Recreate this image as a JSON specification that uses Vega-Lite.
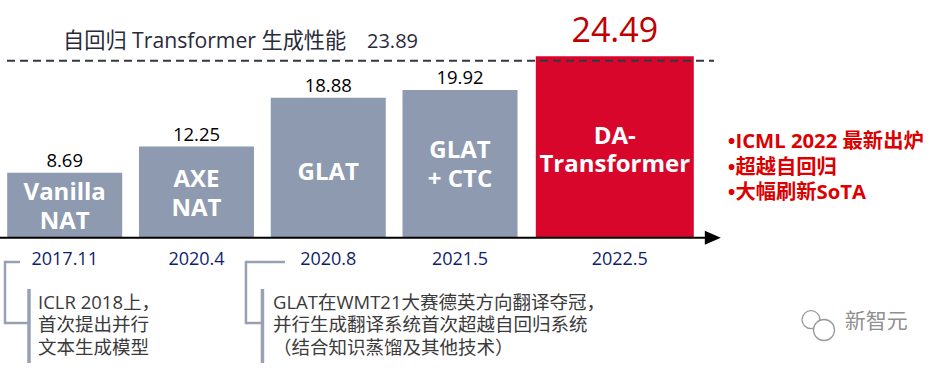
{
  "$schema": "https://vega.github.io/schema/vega-lite/v6.json",
  "width": 943,
  "height": 370,
  "autosize": {"type": "none"},
  "padding": 0,
  "background": "white",
  "config": {"view": {"stroke": null}, "text": {"font": "'Open Sans', 'Noto Sans CJK SC', sans-serif"}},
  "datasets": {
    "bars": [
      {"date": "2017.11", "name": "Vanilla\nNAT", "value": 8.69, "hl": 0},
      {"date": "2020.4", "name": "AXE\nNAT", "value": 12.25, "hl": 0},
      {"date": "2020.8", "name": "GLAT", "value": 18.88, "hl": 0},
      {"date": "2021.5", "name": "GLAT\n+ CTC", "value": 19.92, "hl": 0},
      {"date": "2022.5", "name": "DA-\nTransformer", "value": 24.49, "hl": 1}
    ],
    "ref": [{"label": "自回归 Transformer 生成性能", "value": 23.89}],
    "notes": [
      {"id": "n1", "text": "ICLR 2018上，\n首次提出并行\n文本生成模型"},
      {"id": "n2", "text": "GLAT在WMT21大赛德英方向翻译夺冠，\n并行生成翻译系统首次超越自回归系统\n（结合知识蒸馏及其他技术）"}
    ],
    "side": [{"text": "•ICML 2022 最新出炉\n•超越自回归\n•大幅刷新SoTA"}],
    "mark": [{"text": "新智元"}],
    "one": [{}]
  },
  "layer": [
    {
      "layer": [
        {
          "data": {"name": "bars"},
          "transform": [{"filter": "datum.hl == 0"}],
          "mark": {"type": "bar", "width": 115, "color": "#8e9aaf"},
          "encoding": {
            "x": {"field": "date", "type": "ordinal", "axis": null, "scale": {"type": "point", "domain": ["2017.11", "2020.4", "2020.8", "2021.5", "2022.5"], "range": [64.7, 591.8], "padding": 0}},
            "y": {"field": "value", "type": "quantitative", "axis": null, "scale": {"domain": [0, 23.89], "range": [237, 60.7], "nice": false}}
          }
        },
        {
          "data": {"name": "bars"},
          "transform": [{"filter": "datum.hl == 1"}],
          "mark": {"type": "bar", "width": 158, "xOffset": 23, "color": "#d8062b"},
          "encoding": {
            "x": {"field": "date", "type": "ordinal"},
            "y": {"field": "value", "type": "quantitative"}
          }
        },
        {
          "data": {"name": "bars"},
          "transform": [{"filter": "datum.hl == 0"}],
          "mark": {"type": "text", "dy": -6, "baseline": "alphabetic", "fontSize": 18.5, "color": "#000000"},
          "encoding": {
            "x": {"field": "date", "type": "ordinal"},
            "y": {"field": "value", "type": "quantitative"},
            "text": {"field": "value", "type": "quantitative", "format": ".2f"}
          }
        },
        {
          "data": {"name": "bars"},
          "transform": [{"filter": "datum.hl == 1"}],
          "mark": {"type": "text", "dy": -14.5, "xOffset": 23, "baseline": "alphabetic", "fontSize": 34, "color": "#c00000"},
          "encoding": {
            "x": {"field": "date", "type": "ordinal"},
            "y": {"field": "value", "type": "quantitative"},
            "text": {"field": "value", "type": "quantitative", "format": ".2f"}
          }
        },
        {
          "data": {"name": "ref"},
          "mark": {"type": "rule", "xOffset": -57.7, "x2Offset": 122.2, "strokeDash": [8, 5], "color": "#333844", "strokeWidth": 2},
          "encoding": {
            "x": {"datum": "2017.11", "type": "ordinal"},
            "x2": {"datum": "2022.5"},
            "y": {"field": "value", "type": "quantitative"}
          }
        },
        {
          "data": {"name": "ref"},
          "mark": {"type": "text", "xOffset": -1.7, "dy": -18.5, "align": "left", "baseline": "middle", "fontSize": 21.2, "color": "#2a2a3a"},
          "encoding": {
            "x": {"datum": "2017.11", "type": "ordinal"},
            "y": {"field": "value", "type": "quantitative"},
            "text": {"field": "label"}
          }
        },
        {
          "data": {"name": "ref"},
          "mark": {"type": "text", "xOffset": 302.3, "dy": -18.5, "align": "left", "baseline": "middle", "fontSize": 20, "color": "#2a2a3a"},
          "encoding": {
            "x": {"datum": "2017.11", "type": "ordinal"},
            "y": {"field": "value", "type": "quantitative"},
            "text": {"field": "value", "type": "quantitative", "format": ".2f"}
          }
        },
        {
          "data": {"name": "one"},
          "mark": {"type": "rule", "xOffset": -64.7, "x2Offset": 120, "yOffset": 0.7, "color": "#000000", "strokeWidth": 2},
          "encoding": {
            "x": {"datum": "2017.11", "type": "ordinal"},
            "x2": {"datum": "2022.5"},
            "y": {"datum": 0, "type": "quantitative"}
          }
        },
        {
          "data": {"name": "one"},
          "mark": {"type": "point", "shape": "M-1,-0.875L1,0L-1,0.875Z", "size": 256, "filled": true, "color": "#000000", "opacity": 1, "strokeWidth": 0, "xOffset": 121, "yOffset": 0.7},
          "encoding": {
            "x": {"datum": "2022.5", "type": "ordinal"},
            "y": {"datum": 0, "type": "quantitative"}
          }
        },
        {
          "data": {"name": "bars"},
          "transform": [{"filter": "datum.hl == 0"}],
          "mark": {"type": "text", "dy": 23, "baseline": "middle", "fontSize": 18, "fontWeight": 500, "color": "#0f1e6e"},
          "encoding": {
            "x": {"field": "date", "type": "ordinal"},
            "y": {"datum": 0, "type": "quantitative"},
            "text": {"field": "date"}
          }
        },
        {
          "data": {"name": "bars"},
          "transform": [{"filter": "datum.hl == 1"}],
          "mark": {"type": "text", "dy": 23, "xOffset": 28, "baseline": "middle", "fontSize": 18, "fontWeight": 500, "color": "#0f1e6e"},
          "encoding": {
            "x": {"field": "date", "type": "ordinal"},
            "y": {"datum": 0, "type": "quantitative"},
            "text": {"field": "date"}
          }
        },
        {
          "data": {"name": "one"},
          "mark": {"type": "rule", "xOffset": -59.7, "x2Offset": -44.7, "yOffset": 25, "color": "#97a1b3", "strokeWidth": 2.5},
          "encoding": {"x": {"datum": "2017.11", "type": "ordinal"}, "x2": {"datum": "2017.11"}, "y": {"datum": 0, "type": "quantitative"}}
        },
        {
          "data": {"name": "one"},
          "mark": {"type": "rule", "xOffset": -59.7, "yOffset": 23.8, "y2Offset": 87.2, "color": "#97a1b3", "strokeWidth": 2.5},
          "encoding": {"x": {"datum": "2017.11", "type": "ordinal"}, "y": {"datum": 0, "type": "quantitative"}, "y2": {"datum": 0}}
        },
        {
          "data": {"name": "one"},
          "mark": {"type": "rule", "xOffset": -59.7, "x2Offset": -35.7, "yOffset": 86, "color": "#97a1b3", "strokeWidth": 2.5},
          "encoding": {"x": {"datum": "2017.11", "type": "ordinal"}, "x2": {"datum": "2017.11"}, "y": {"datum": 0, "type": "quantitative"}}
        },
        {
          "data": {"name": "one"},
          "mark": {"type": "rule", "xOffset": -35.7, "yOffset": 52, "y2Offset": 126, "color": "#97a1b3", "strokeWidth": 3.5},
          "encoding": {"x": {"datum": "2017.11", "type": "ordinal"}, "y": {"datum": 0, "type": "quantitative"}, "y2": {"datum": 0}}
        },
        {
          "data": {"name": "one"},
          "mark": {"type": "rule", "xOffset": -82.3, "x2Offset": -43.3, "yOffset": 25, "color": "#97a1b3", "strokeWidth": 2.5},
          "encoding": {"x": {"datum": "2020.8", "type": "ordinal"}, "x2": {"datum": "2020.8"}, "y": {"datum": 0, "type": "quantitative"}}
        },
        {
          "data": {"name": "one"},
          "mark": {"type": "rule", "xOffset": -82.3, "yOffset": 23.8, "y2Offset": 87.2, "color": "#97a1b3", "strokeWidth": 2.5},
          "encoding": {"x": {"datum": "2020.8", "type": "ordinal"}, "y": {"datum": 0, "type": "quantitative"}, "y2": {"datum": 0}}
        },
        {
          "data": {"name": "one"},
          "mark": {"type": "rule", "xOffset": -82.3, "x2Offset": -65.8, "yOffset": 86, "color": "#97a1b3", "strokeWidth": 2.5},
          "encoding": {"x": {"datum": "2020.8", "type": "ordinal"}, "x2": {"datum": "2020.8"}, "y": {"datum": 0, "type": "quantitative"}}
        },
        {
          "data": {"name": "one"},
          "mark": {"type": "rule", "xOffset": -65.8, "yOffset": 52, "y2Offset": 126, "color": "#97a1b3", "strokeWidth": 3.5},
          "encoding": {"x": {"datum": "2020.8", "type": "ordinal"}, "y": {"datum": 0, "type": "quantitative"}, "y2": {"datum": 0}}
        },
        {
          "data": {"name": "notes"},
          "transform": [{"filter": "datum.id == 'n1'"}],
          "mark": {"type": "text", "xOffset": -26.7, "dy": 65.5, "align": "left", "baseline": "middle", "lineBreak": "\n", "lineHeight": 22.5, "fontSize": 18.5, "color": "#3a3a3a"},
          "encoding": {"x": {"datum": "2017.11", "type": "ordinal"}, "y": {"datum": 0, "type": "quantitative"}, "text": {"field": "text"}}
        },
        {
          "data": {"name": "notes"},
          "transform": [{"filter": "datum.id == 'n2'"}],
          "mark": {"type": "text", "xOffset": -55.3, "dy": 65.5, "align": "left", "baseline": "middle", "lineBreak": "\n", "lineHeight": 22.5, "fontSize": 18.5, "color": "#3a3a3a"},
          "encoding": {"x": {"datum": "2020.8", "type": "ordinal"}, "y": {"datum": 0, "type": "quantitative"}, "text": {"field": "text"}}
        },
        {
          "data": {"name": "side"},
          "mark": {"type": "text", "xOffset": 136, "dy": -95, "align": "left", "baseline": "middle", "lineBreak": "\n", "lineHeight": 25.5, "fontSize": 20.3, "fontWeight": "bold", "color": "#dc0000"},
          "encoding": {"x": {"datum": "2022.5", "type": "ordinal"}, "y": {"datum": 0, "type": "quantitative"}, "text": {"field": "text"}}
        },
        {
          "data": {"name": "one"},
          "mark": {"type": "point", "shape": "circle", "size": 324, "filled": false, "fill": "white", "stroke": "#9a9a9a", "strokeWidth": 1.3, "opacity": 1, "xOffset": 219.2, "yOffset": 82.7},
          "encoding": {"x": {"datum": "2022.5", "type": "ordinal"}, "y": {"datum": 0, "type": "quantitative"}}
        },
        {
          "data": {"name": "one"},
          "mark": {"type": "point", "shape": "circle", "size": 441, "filled": false, "fill": "white", "stroke": "#9a9a9a", "strokeWidth": 1.3, "opacity": 1, "xOffset": 232.2, "yOffset": 93},
          "encoding": {"x": {"datum": "2022.5", "type": "ordinal"}, "y": {"datum": 0, "type": "quantitative"}}
        },
        {
          "data": {"name": "mark"},
          "mark": {"type": "text", "xOffset": 253, "dy": 85, "align": "left", "baseline": "middle", "fontSize": 21, "color": "#8f8f8f"},
          "encoding": {"x": {"datum": "2022.5", "type": "ordinal"}, "y": {"datum": 0, "type": "quantitative"}, "text": {"field": "text"}}
        }
      ]
    },
    {
      "layer": [
        {
          "data": {"name": "bars"},
          "transform": [{"filter": "datum.hl == 0 && datum.date != '2020.8'"}],
          "mark": {"type": "text", "dy": -12, "baseline": "middle", "lineBreak": "\n", "lineHeight": 29, "fontSize": 24, "fontWeight": "bold", "color": "#ffffff"},
          "encoding": {
            "x": {"field": "date", "type": "ordinal"},
            "y": {"field": "value", "type": "quantitative", "axis": null, "scale": {"domain": [0, 47.78], "range": [237, 60.7], "nice": false}},
            "text": {"field": "name"}
          }
        },
        {
          "data": {"name": "bars"},
          "transform": [{"filter": "datum.date == '2020.8'"}],
          "mark": {"type": "text", "dy": 6, "baseline": "middle", "lineBreak": "\n", "lineHeight": 29, "fontSize": 24, "fontWeight": "bold", "color": "#ffffff"},
          "encoding": {
            "x": {"field": "date", "type": "ordinal"},
            "y": {"field": "value", "type": "quantitative"},
            "text": {"field": "name"}
          }
        },
        {
          "data": {"name": "bars"},
          "transform": [{"filter": "datum.hl == 1"}],
          "mark": {"type": "text", "dy": -10, "xOffset": 23, "baseline": "middle", "lineBreak": "\n", "lineHeight": 28, "fontSize": 24, "fontWeight": "bold", "color": "#ffffff"},
          "encoding": {
            "x": {"field": "date", "type": "ordinal"},
            "y": {"field": "value", "type": "quantitative"},
            "text": {"field": "name"}
          }
        }
      ]
    }
  ],
  "resolve": {"scale": {"y": "independent"}}
}
